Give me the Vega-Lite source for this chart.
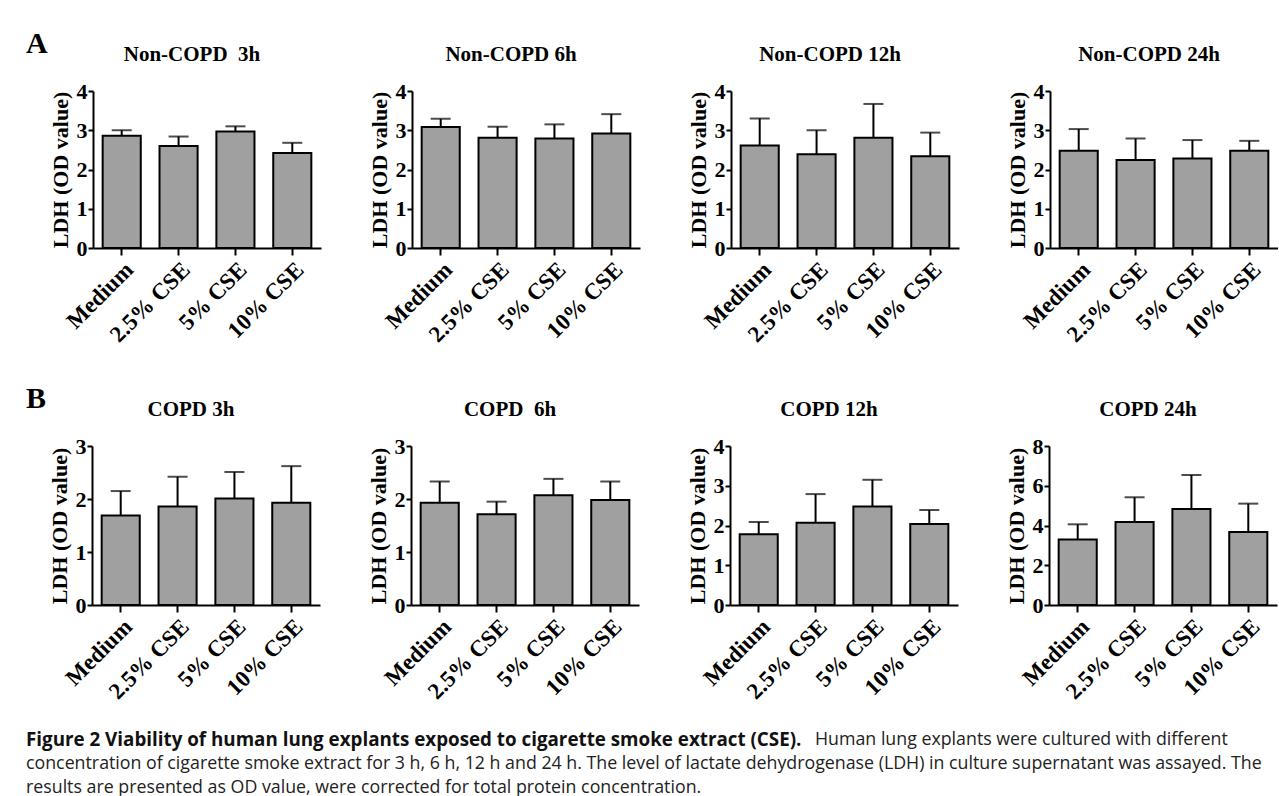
{
  "$schema": "https://vega.github.io/schema/vega-lite/v6.json",
  "background": "white",
  "padding": {"left": 26, "top": 29, "right": 0, "bottom": 0},
  "datasets": {
    "ldh": [
      {"panel": "N3", "treatment": "Medium", "mean": 2.86, "upper": 3.0},
      {"panel": "N3", "treatment": "2.5% CSE", "mean": 2.6, "upper": 2.84},
      {"panel": "N3", "treatment": "5% CSE", "mean": 2.97, "upper": 3.1},
      {"panel": "N3", "treatment": "10% CSE", "mean": 2.42, "upper": 2.68},
      {"panel": "N6", "treatment": "Medium", "mean": 3.08, "upper": 3.29},
      {"panel": "N6", "treatment": "2.5% CSE", "mean": 2.81, "upper": 3.09},
      {"panel": "N6", "treatment": "5% CSE", "mean": 2.79, "upper": 3.15},
      {"panel": "N6", "treatment": "10% CSE", "mean": 2.92, "upper": 3.41},
      {"panel": "N12", "treatment": "Medium", "mean": 2.61, "upper": 3.3},
      {"panel": "N12", "treatment": "2.5% CSE", "mean": 2.39, "upper": 3.0},
      {"panel": "N12", "treatment": "5% CSE", "mean": 2.81, "upper": 3.67},
      {"panel": "N12", "treatment": "10% CSE", "mean": 2.34, "upper": 2.94},
      {"panel": "N24", "treatment": "Medium", "mean": 2.48, "upper": 3.03},
      {"panel": "N24", "treatment": "2.5% CSE", "mean": 2.24, "upper": 2.79},
      {"panel": "N24", "treatment": "5% CSE", "mean": 2.28, "upper": 2.75},
      {"panel": "N24", "treatment": "10% CSE", "mean": 2.48, "upper": 2.73},
      {"panel": "C3", "treatment": "Medium", "mean": 1.69, "upper": 2.15},
      {"panel": "C3", "treatment": "2.5% CSE", "mean": 1.86, "upper": 2.42},
      {"panel": "C3", "treatment": "5% CSE", "mean": 2.01, "upper": 2.51},
      {"panel": "C3", "treatment": "10% CSE", "mean": 1.93, "upper": 2.62},
      {"panel": "C6", "treatment": "Medium", "mean": 1.93, "upper": 2.33},
      {"panel": "C6", "treatment": "2.5% CSE", "mean": 1.71, "upper": 1.95},
      {"panel": "C6", "treatment": "5% CSE", "mean": 2.07, "upper": 2.38},
      {"panel": "C6", "treatment": "10% CSE", "mean": 1.98, "upper": 2.33},
      {"panel": "C12", "treatment": "Medium", "mean": 1.78, "upper": 2.09},
      {"panel": "C12", "treatment": "2.5% CSE", "mean": 2.07, "upper": 2.79},
      {"panel": "C12", "treatment": "5% CSE", "mean": 2.48, "upper": 3.15},
      {"panel": "C12", "treatment": "10% CSE", "mean": 2.04, "upper": 2.39},
      {"panel": "C24", "treatment": "Medium", "mean": 3.3, "upper": 4.06},
      {"panel": "C24", "treatment": "2.5% CSE", "mean": 4.18, "upper": 5.42},
      {"panel": "C24", "treatment": "5% CSE", "mean": 4.83, "upper": 6.54},
      {"panel": "C24", "treatment": "10% CSE", "mean": 3.67, "upper": 5.1}
    ],
    "caption": [
      {"line": 1, "part": "bold", "text": "Figure 2 Viability of human lung explants exposed to cigarette smoke extract (CSE)."},
      {"line": 1, "part": "lead", "text": "Human lung explants were cultured with different"},
      {"line": 2, "part": "normal", "text": "concentration of cigarette smoke extract for 3 h, 6 h, 12 h and 24 h. The level of lactate dehydrogenase (LDH) in culture supernatant was assayed. The"},
      {"line": 3, "part": "normal", "text": "results are presented as OD value, were corrected for total protein concentration."}
    ],
    "empty": []
  },
  "spacing": 24,
  "vconcat": [
    {
      "spacing": 37,
      "vconcat": [
        {
          "spacing": 0,
          "hconcat": [
            {"data": {"name": "empty"}, "width": 1, "height": 157, "title": {"text": "A", "anchor": "start", "fontSize": 30, "offset": 32, "dx": 0}, "mark": {"type": "text"}, "encoding": {}},
            {
              "spacing": 46,
              "hconcat": [
                {"data": {"name": "ldh"}, "width": 228, "height": 157, "title": "Non-COPD\u00a0 3h", "transform": [{"filter": "datum.panel === 'N3'"}],
                 "encoding": {"x": {"field": "treatment", "type": "nominal", "sort": ["Medium", "2.5% CSE", "5% CSE", "10% CSE"], "axis": {"title": null}}},
                 "layer": [
                   {"mark": {"type": "bar", "fill": "#a0a0a0", "stroke": "black", "strokeWidth": 2}, "encoding": {"y": {"field": "mean", "type": "quantitative", "scale": {"domain": [0, 4], "nice": false}, "axis": {"title": "LDH (OD value)", "values": [0, 1, 2, 3, 4]}}}},
                   {"mark": {"type": "rule", "color": "black", "strokeWidth": 2}, "encoding": {"y": {"field": "mean", "type": "quantitative", "axis": {"title": "LDH (OD value)", "values": [0, 1, 2, 3, 4]}}, "y2": {"field": "upper"}}},
                   {"mark": {"type": "tick", "color": "black", "thickness": 2, "size": 20}, "encoding": {"y": {"field": "upper", "type": "quantitative", "axis": {"title": "LDH (OD value)", "values": [0, 1, 2, 3, 4]}}}}
                 ]},
                {"data": {"name": "ldh"}, "width": 228, "height": 157, "title": "Non-COPD 6h", "transform": [{"filter": "datum.panel === 'N6'"}],
                 "encoding": {"x": {"field": "treatment", "type": "nominal", "sort": ["Medium", "2.5% CSE", "5% CSE", "10% CSE"], "axis": {"title": null}}},
                 "layer": [
                   {"mark": {"type": "bar", "fill": "#a0a0a0", "stroke": "black", "strokeWidth": 2}, "encoding": {"y": {"field": "mean", "type": "quantitative", "scale": {"domain": [0, 4], "nice": false}, "axis": {"title": "LDH (OD value)", "values": [0, 1, 2, 3, 4]}}}},
                   {"mark": {"type": "rule", "color": "black", "strokeWidth": 2}, "encoding": {"y": {"field": "mean", "type": "quantitative", "axis": {"title": "LDH (OD value)", "values": [0, 1, 2, 3, 4]}}, "y2": {"field": "upper"}}},
                   {"mark": {"type": "tick", "color": "black", "thickness": 2, "size": 20}, "encoding": {"y": {"field": "upper", "type": "quantitative", "axis": {"title": "LDH (OD value)", "values": [0, 1, 2, 3, 4]}}}}
                 ]},
                {"data": {"name": "ldh"}, "width": 228, "height": 157, "title": "Non-COPD 12h", "transform": [{"filter": "datum.panel === 'N12'"}],
                 "encoding": {"x": {"field": "treatment", "type": "nominal", "sort": ["Medium", "2.5% CSE", "5% CSE", "10% CSE"], "axis": {"title": null}}},
                 "layer": [
                   {"mark": {"type": "bar", "fill": "#a0a0a0", "stroke": "black", "strokeWidth": 2}, "encoding": {"y": {"field": "mean", "type": "quantitative", "scale": {"domain": [0, 4], "nice": false}, "axis": {"title": "LDH (OD value)", "values": [0, 1, 2, 3, 4]}}}},
                   {"mark": {"type": "rule", "color": "black", "strokeWidth": 2}, "encoding": {"y": {"field": "mean", "type": "quantitative", "axis": {"title": "LDH (OD value)", "values": [0, 1, 2, 3, 4]}}, "y2": {"field": "upper"}}},
                   {"mark": {"type": "tick", "color": "black", "thickness": 2, "size": 20}, "encoding": {"y": {"field": "upper", "type": "quantitative", "axis": {"title": "LDH (OD value)", "values": [0, 1, 2, 3, 4]}}}}
                 ]},
                {"data": {"name": "ldh"}, "width": 228, "height": 157, "title": "Non-COPD 24h", "transform": [{"filter": "datum.panel === 'N24'"}],
                 "encoding": {"x": {"field": "treatment", "type": "nominal", "sort": ["Medium", "2.5% CSE", "5% CSE", "10% CSE"], "axis": {"title": null}}},
                 "layer": [
                   {"mark": {"type": "bar", "fill": "#a0a0a0", "stroke": "black", "strokeWidth": 2}, "encoding": {"y": {"field": "mean", "type": "quantitative", "scale": {"domain": [0, 4], "nice": false}, "axis": {"title": "LDH (OD value)", "values": [0, 1, 2, 3, 4]}}}},
                   {"mark": {"type": "rule", "color": "black", "strokeWidth": 2}, "encoding": {"y": {"field": "mean", "type": "quantitative", "axis": {"title": "LDH (OD value)", "values": [0, 1, 2, 3, 4]}}, "y2": {"field": "upper"}}},
                   {"mark": {"type": "tick", "color": "black", "thickness": 2, "size": 20}, "encoding": {"y": {"field": "upper", "type": "quantitative", "axis": {"title": "LDH (OD value)", "values": [0, 1, 2, 3, 4]}}}}
                 ]}
              ]
            }
          ]
        },
        {
          "spacing": 0,
          "hconcat": [
            {"data": {"name": "empty"}, "width": 1, "height": 159, "title": {"text": "B", "anchor": "start", "fontSize": 30, "offset": 32, "dx": 0}, "mark": {"type": "text"}, "encoding": {}},
            {
              "spacing": 46,
              "hconcat": [
                {"data": {"name": "ldh"}, "width": 228, "height": 159, "title": "COPD 3h", "transform": [{"filter": "datum.panel === 'C3'"}],
                 "encoding": {"x": {"field": "treatment", "type": "nominal", "sort": ["Medium", "2.5% CSE", "5% CSE", "10% CSE"], "axis": {"title": null}}},
                 "layer": [
                   {"mark": {"type": "bar", "fill": "#a0a0a0", "stroke": "black", "strokeWidth": 2}, "encoding": {"y": {"field": "mean", "type": "quantitative", "scale": {"domain": [0, 3], "nice": false}, "axis": {"title": "LDH (OD value)", "values": [0, 1, 2, 3]}}}},
                   {"mark": {"type": "rule", "color": "black", "strokeWidth": 2}, "encoding": {"y": {"field": "mean", "type": "quantitative", "axis": {"title": "LDH (OD value)", "values": [0, 1, 2, 3]}}, "y2": {"field": "upper"}}},
                   {"mark": {"type": "tick", "color": "black", "thickness": 2, "size": 20}, "encoding": {"y": {"field": "upper", "type": "quantitative", "axis": {"title": "LDH (OD value)", "values": [0, 1, 2, 3]}}}}
                 ]},
                {"data": {"name": "ldh"}, "width": 228, "height": 159, "title": "COPD\u00a0 6h", "transform": [{"filter": "datum.panel === 'C6'"}],
                 "encoding": {"x": {"field": "treatment", "type": "nominal", "sort": ["Medium", "2.5% CSE", "5% CSE", "10% CSE"], "axis": {"title": null}}},
                 "layer": [
                   {"mark": {"type": "bar", "fill": "#a0a0a0", "stroke": "black", "strokeWidth": 2}, "encoding": {"y": {"field": "mean", "type": "quantitative", "scale": {"domain": [0, 3], "nice": false}, "axis": {"title": "LDH (OD value)", "values": [0, 1, 2, 3]}}}},
                   {"mark": {"type": "rule", "color": "black", "strokeWidth": 2}, "encoding": {"y": {"field": "mean", "type": "quantitative", "axis": {"title": "LDH (OD value)", "values": [0, 1, 2, 3]}}, "y2": {"field": "upper"}}},
                   {"mark": {"type": "tick", "color": "black", "thickness": 2, "size": 20}, "encoding": {"y": {"field": "upper", "type": "quantitative", "axis": {"title": "LDH (OD value)", "values": [0, 1, 2, 3]}}}}
                 ]},
                {"data": {"name": "ldh"}, "width": 228, "height": 159, "title": "COPD 12h", "transform": [{"filter": "datum.panel === 'C12'"}],
                 "encoding": {"x": {"field": "treatment", "type": "nominal", "sort": ["Medium", "2.5% CSE", "5% CSE", "10% CSE"], "axis": {"title": null}}},
                 "layer": [
                   {"mark": {"type": "bar", "fill": "#a0a0a0", "stroke": "black", "strokeWidth": 2}, "encoding": {"y": {"field": "mean", "type": "quantitative", "scale": {"domain": [0, 4], "nice": false}, "axis": {"title": "LDH (OD value)", "values": [0, 1, 2, 3, 4]}}}},
                   {"mark": {"type": "rule", "color": "black", "strokeWidth": 2}, "encoding": {"y": {"field": "mean", "type": "quantitative", "axis": {"title": "LDH (OD value)", "values": [0, 1, 2, 3, 4]}}, "y2": {"field": "upper"}}},
                   {"mark": {"type": "tick", "color": "black", "thickness": 2, "size": 20}, "encoding": {"y": {"field": "upper", "type": "quantitative", "axis": {"title": "LDH (OD value)", "values": [0, 1, 2, 3, 4]}}}}
                 ]},
                {"data": {"name": "ldh"}, "width": 228, "height": 159, "title": "COPD 24h", "transform": [{"filter": "datum.panel === 'C24'"}],
                 "encoding": {"x": {"field": "treatment", "type": "nominal", "sort": ["Medium", "2.5% CSE", "5% CSE", "10% CSE"], "axis": {"title": null}}},
                 "layer": [
                   {"mark": {"type": "bar", "fill": "#a0a0a0", "stroke": "black", "strokeWidth": 2}, "encoding": {"y": {"field": "mean", "type": "quantitative", "scale": {"domain": [0, 8], "nice": false}, "axis": {"title": "LDH (OD value)", "values": [0, 2, 4, 6, 8]}}}},
                   {"mark": {"type": "rule", "color": "black", "strokeWidth": 2}, "encoding": {"y": {"field": "mean", "type": "quantitative", "axis": {"title": "LDH (OD value)", "values": [0, 2, 4, 6, 8]}}, "y2": {"field": "upper"}}},
                   {"mark": {"type": "tick", "color": "black", "thickness": 2, "size": 20}, "encoding": {"y": {"field": "upper", "type": "quantitative", "axis": {"title": "LDH (OD value)", "values": [0, 2, 4, 6, 8]}}}}
                 ]}
              ]
            }
          ]
        }
      ]
    },
    {
      "data": {"name": "caption"},
      "width": 1245,
      "height": 72,
      "encoding": {
        "x": {"datum": 0, "type": "quantitative", "scale": {"domain": [0, 1]}, "axis": null},
        "y": {"field": "line", "type": "ordinal", "axis": null},
        "text": {"field": "text"}
      },
      "layer": [
        {"transform": [{"filter": "datum.part === 'bold'"}], "mark": {"type": "text", "align": "left", "baseline": "middle", "font": "Open Sans", "fontWeight": "bold", "fontSize": 18.8, "color": "#111111"}},
        {"transform": [{"filter": "datum.part === 'lead'"}], "mark": {"type": "text", "align": "left", "baseline": "middle", "dx": 789, "font": "Open Sans", "fontSize": 17.8, "color": "#222222"}},
        {"transform": [{"filter": "datum.part === 'normal'"}], "mark": {"type": "text", "align": "left", "baseline": "middle", "font": "Open Sans", "fontSize": 17.8, "color": "#222222"}}
      ]
    }
  ],
  "config": {
    "view": {"stroke": null},
    "font": "Liberation Serif",
    "scale": {"bandPaddingInner": 0.33, "bandPaddingOuter": 0.17},
    "axis": {"domainColor": "black", "domainWidth": 2, "tickColor": "black", "tickWidth": 2, "labelColor": "black", "labelFont": "Liberation Serif", "labelFontWeight": "bold", "titleFont": "Liberation Serif", "titleFontWeight": "bold", "titleColor": "black", "grid": false, "labelOverlap": false},
    "axisY": {"labelFontSize": 22, "tickSize": 5, "labelPadding": 1, "titleFontSize": 22, "titlePadding": 4},
    "axisX": {"labelFontSize": 23, "labelAngle": -45, "tickSize": 7, "labelPadding": 3},
    "title": {"font": "Liberation Serif", "fontSize": 21, "fontWeight": "bold", "color": "black", "offset": 15, "dx": -15}
  }
}
